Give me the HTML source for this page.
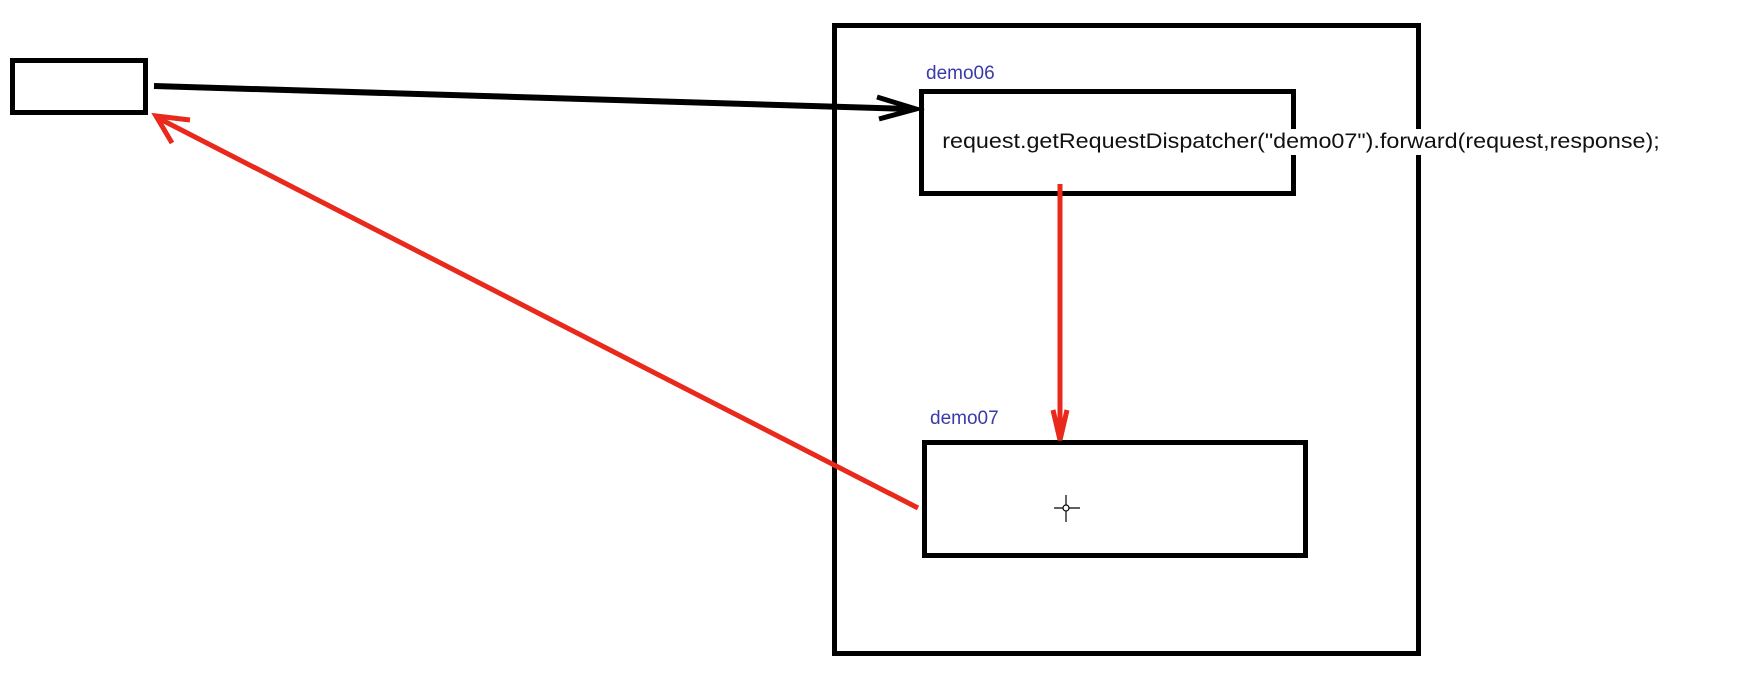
<!DOCTYPE html>
<html><head><style>
body{margin:0;width:1739px;height:691px;background:#fff;overflow:hidden;position:relative;font-family:"Liberation Sans",sans-serif}
.b{position:absolute;border:5.5px solid #000;box-sizing:border-box}
.l{position:absolute;color:#3a3aa8;font-size:19px}
</style></head><body>
<div class="b" style="left:832px;top:23px;width:589px;height:633px"></div>
<div class="b" style="left:10px;top:58px;width:138px;height:57px"></div>
<div class="b" style="left:919px;top:89px;width:377px;height:107px"></div>
<div class="b" style="left:922px;top:440px;width:386px;height:118px"></div>
<div class="l" style="left:926px;top:63px">demo06</div>
<div class="l" style="left:930px;top:408px">demo07</div>
<div style="position:absolute;left:940px;top:129px;background:#fff;font-size:21px;padding:1px 2px;white-space:nowrap;color:#111;transform:scaleX(1.11);transform-origin:0 0">request.getRequestDispatcher("demo07").forward(request,response);</div>
<svg width="1739" height="691" style="position:absolute;left:0;top:0">
<line x1="154" y1="86" x2="910" y2="109" stroke="#000" stroke-width="6"/>
<path d="M877 97 L916 109 L879 119" fill="none" stroke="#000" stroke-width="5"/>
<line x1="1060" y1="184" x2="1060" y2="436" stroke="#e8291c" stroke-width="5"/>
<path d="M1053 410 L1060 440 L1067 410" fill="none" stroke="#e8291c" stroke-width="5"/>
<line x1="918" y1="508" x2="160" y2="119" stroke="#e8291c" stroke-width="5"/>
<path d="M190 120 L156 116 L172 143" fill="none" stroke="#e8291c" stroke-width="5"/>
<g stroke="#000" stroke-width="1.2" fill="none"><line x1="1066" y1="495" x2="1066" y2="522"/><line x1="1054" y1="508" x2="1080" y2="508"/><circle cx="1066" cy="508" r="3" fill="#fff"/></g>
</svg>
</body></html>
